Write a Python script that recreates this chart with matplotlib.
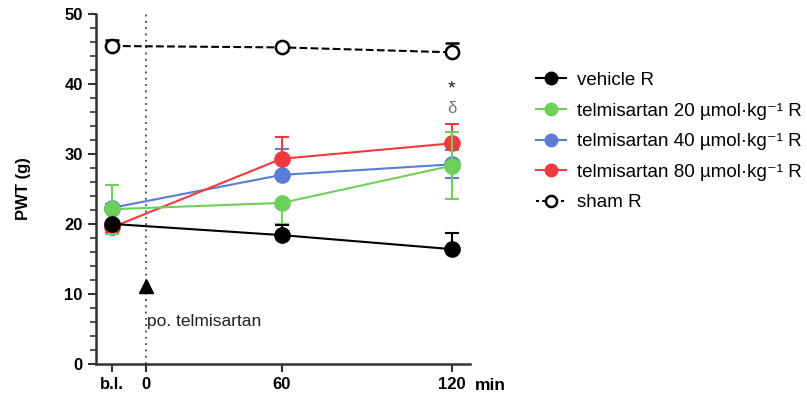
import matplotlib
matplotlib.use("Agg")
import matplotlib.pyplot as plt
from matplotlib.lines import Line2D
import numpy as np

plt.rcParams['font.family'] = ['Liberation Sans', 'DejaVu Sans']

# ====== 資料 ======
TIMES = [-15, 60, 120]
TICK_POS = [-15, 0, 60, 120]
TICK_LABELS = ['b.l.', '0', '60', '120']

vehicle_mean = [20.0, 18.4, 16.4]
vehicle_up = [0.0, 1.5, 2.3]
vehicle_down = [0.0, 0.0, 0.0]

t20_mean = [22.1, 23.0, 28.3]
t20_up = [3.5, 0.0, 4.8]
t20_down = [3.6, 3.0, 4.8]

t40_mean = [22.3, 27.0, 28.5]
t40_up = [0.5, 3.7, 2.0]
t40_down = [0.0, 0.0, 1.9]

t80_mean = [19.5, 29.3, 31.5]
t80_up = [0.0, 3.1, 2.8]
t80_down = [0.8, 0.0, 0.0]

sham_mean = [45.4, 45.2, 44.5]
sham_up = [0.9, 0.2, 1.3]
sham_down = [0.0, 0.0, 0.0]

LABELS = ['vehicle R',
          'telmisartan 20 µmol·kg⁻¹ R',
          'telmisartan 40 µmol·kg⁻¹ R',
          'telmisartan 80 µmol·kg⁻¹ R',
          'sham R']
COLORS = ['black', '#6cd05a', '#5a7dd4', '#f03a40', 'black']

# x 軸為分段刻度（b.l.-0-60-120 間距不等）
T_KNOTS = np.array([-60.0, -15.0, 0.0, 60.0, 120.0, 240.0])
P_KNOTS = np.array([-136.0, -34.0, 0.0, 136.0, 306.0, 646.0])


def t_forward(t):
    return np.interp(t, T_KNOTS, P_KNOTS)


def t_inverse(p):
    return np.interp(p, P_KNOTS, T_KNOTS)


fig = plt.figure(figsize=(8.07, 3.98), dpi=100)
ax = fig.add_axes([0.119, 0.0854, 0.463, 0.88])
ax.set_xscale('function', functions=(t_forward, t_inverse))

data = [
    (vehicle_mean, vehicle_up, vehicle_down),
    (t20_mean, t20_up, t20_down),
    (t40_mean, t40_up, t40_down),
    (t80_mean, t80_up, t80_down),
    (sham_mean, sham_up, sham_down),
]
# 繪製順序（zorder）: 藍 < 紅 < 綠 < 黑
ZORDER = [5, 4, 2, 3, 1]
legend_handles = []
for (mean, up, down), color, label, z in zip(data, COLORS, LABELS, ZORDER):
    if label == 'sham R':
        ax.errorbar(TIMES, mean, yerr=[down, up], color=color, ls='--', lw=1.5,
                    marker='o', ms=9.5, mfc='white', mec=color, mew=1.8,
                    capsize=5, elinewidth=1.5, capthick=1.5, zorder=z)
        legend_handles.append(Line2D([], [], color=color, ls=(0, (1.5, 1.5)), lw=1.5, marker='o',
                                     ms=8, mfc='white', mec=color, mew=1.8))
    else:
        ax.errorbar(TIMES, mean, yerr=[down, up], color=color, ls='-', lw=1.5,
                    marker='o', ms=11, mfc=color, mec=color,
                    capsize=5, elinewidth=1.5, capthick=1.5, zorder=z)
        legend_handles.append(Line2D([], [], color=color, lw=1.5, marker='o', ms=9))

# 投藥時間點
ax.axvline(0, color='#444444', ls=(0, (1, 2.5)), lw=1.3, zorder=0)
ax.plot(0, 11.2, marker='^', ms=10, color='black', zorder=6)
ax.text(0.5, 6.0, 'po. telmisartan', fontsize=12.5, color='#222222', va='center')

# 顯著性標記
ax.text(120, 39.3, '*', fontsize=14, ha='center', va='center', color='#222222')
ax.text(120, 36.5, 'δ', fontsize=12, ha='center', va='center', color='#777777')

ax.set_xlim(-22, 126.4)
ax.set_ylim(0, 50)
ax.set_xticks(TICK_POS)
ax.set_xticklabels(TICK_LABELS, fontweight='bold', fontsize=12)
ax.xaxis.set_minor_locator(matplotlib.ticker.NullLocator())
ax.set_yticks([0, 10, 20, 30, 40, 50])
ax.set_yticks(np.arange(0, 51, 2), minor=True)
for lbl in ax.get_yticklabels():
    lbl.set_fontweight('bold')
    lbl.set_fontsize(12)
ax.tick_params(axis='both', which='major', length=6, width=1.5, color='#333333')
ax.tick_params(axis='y', which='minor', length=4, width=1.2, color='#333333')
ax.spines['top'].set_visible(False)
ax.spines['right'].set_visible(False)
for s in ['left', 'bottom']:
    ax.spines[s].set_linewidth(1.8)
    ax.spines[s].set_color('#333333')
ax.set_ylabel('PWT (g)', fontweight='bold', fontsize=12)
ax.yaxis.set_label_coords(-0.175, 0.5)
ax.text(1.013, -0.06, 'min', transform=ax.transAxes, fontweight='bold', fontsize=12.5,
        va='center', ha='left')

fig.legend(legend_handles, LABELS, loc='upper left',
           bbox_to_anchor=(0.643, 0.862), frameon=False, fontsize=13.5,
           handlelength=1.6, labelspacing=0.72, handletextpad=0.6)

fig.savefig('out.png', dpi=100)
